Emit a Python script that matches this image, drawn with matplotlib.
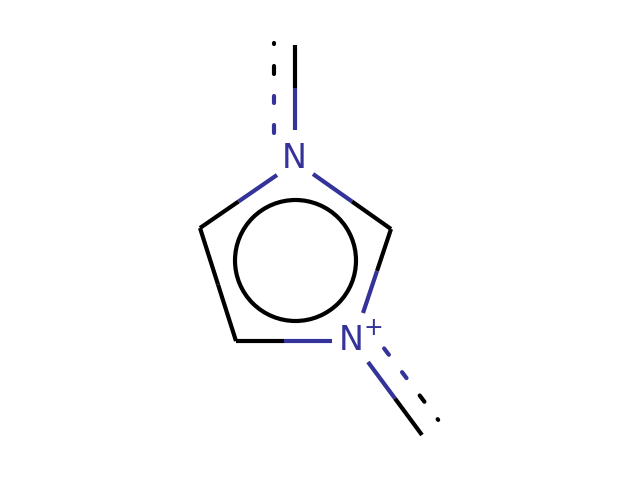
import numpy as np
import matplotlib
matplotlib.use("Agg")
import matplotlib.pyplot as plt
from matplotlib.patches import Circle

BLUE = '#333399'
BLACK = '#000000'

# atom positions (pixels, y down)
atom_names = ['N1', 'C2', 'N3', 'C4', 'C5', 'Me1', 'Me3']
atom_x = [294, 391, 351, 236, 200, 295, 422]
atom_y = [158, 229, 341, 341, 228, 45, 435]
atom_col = [BLUE, BLACK, BLUE, BLACK, BLACK, BLACK, BLACK]

# drawn bond segments (start/end after label shortening)
bond_start = [(313, 174), (391, 229), (332, 341), (236, 341), (277, 175), (295, 130), (368, 362)]
bond_end = [(391, 229), (363, 313), (236, 341), (200, 228), (200, 228), (295, 45), (422, 435)]
bond_col_a = [BLUE, BLACK, BLUE, BLACK, BLUE, BLUE, BLUE]
bond_col_b = [BLACK, BLUE, BLACK, BLACK, BLACK, BLACK, BLACK]

# dashed partner lines of the methyl bonds
dash_start = [(274, 135), (383, 347)]
dash_end = [(274, 42), (439, 421)]
dash_on = [(0.02, 0.105), (0.34, 0.42), (0.655, 0.74), (0.975, 0.985)]

ring_cx, ring_cy, ring_r = 295.5, 260.5, 60.5

fig = plt.figure(figsize=(6.4, 4.8), dpi=100)
ax = fig.add_axes([0, 0, 1, 1])
ax.set_xlim(0, 640)
ax.set_ylim(480, 0)
ax.axis('off')

lw = 3.0
for (x0, y0), (x1, y1), ca, cb in zip(bond_start, bond_end, bond_col_a, bond_col_b):
    mx, my = (x0 + x1) / 2, (y0 + y1) / 2
    ax.plot([x0, mx], [y0, my], color=ca, lw=lw, solid_capstyle='butt')
    ax.plot([mx, x1], [my, y1], color=cb, lw=lw, solid_capstyle='butt')

for (x0, y0), (x1, y1) in zip(dash_start, dash_end):
    for f0, f1 in dash_on:
        xs = [x0 + (x1 - x0) * f0, x0 + (x1 - x0) * f1]
        ys = [y0 + (y1 - y0) * f0, y0 + (y1 - y0) * f1]
        c = BLUE if (f0 + f1) / 2 < 0.5 else BLACK
        ax.plot(xs, ys, color=c, lw=lw, solid_capstyle='round')

ax.add_patch(Circle((ring_cx, ring_cy), ring_r, fill=False, ec=BLACK, lw=lw))

for name, x, y, c in zip(atom_names, atom_x, atom_y, atom_col):
    if name.startswith('N'):
        ax.text(x, y, 'N', color=c, fontsize=24, ha='center', va='center',
                fontstretch='expanded', fontweight='medium')
ax.text(373, 328, '+', color=BLUE, fontsize=17, ha='center', va='center')

fig.savefig('out.png', dpi=100)
